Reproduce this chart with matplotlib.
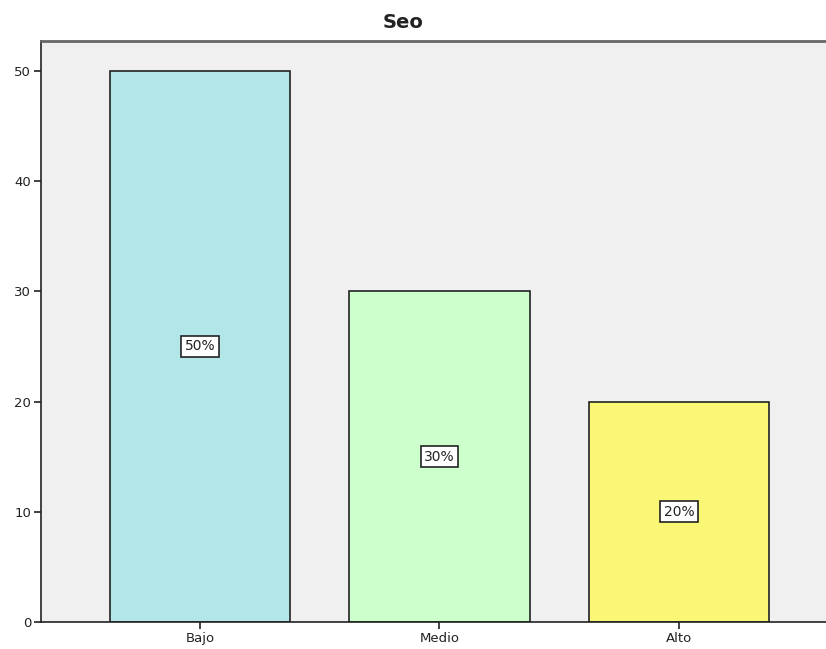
import matplotlib
matplotlib.use("Agg")
import matplotlib.pyplot as plt

categories = ["Bajo", "Medio", "Alto"]
values = [50, 30, 20]
pct_labels = ["50%", "30%", "20%"]
colors = ["#b3e6e8", "#ccffcc", "#faf777"]

fig = plt.figure(figsize=(8.26, 6.49), dpi=100)
ax = fig.add_axes([41/826, 27/649, 797/826, 581/649])
ax.set_facecolor("#f0f0f0")
x = list(range(len(categories)))
ax.bar(x, values, width=0.752, color=colors, edgecolor="#222222", linewidth=1.2, zorder=2)
for xi, v, lab in zip(x, values, pct_labels):
    ax.text(xi, v / 2, lab, ha="center", va="center", fontsize=10, color="#222222",
            bbox=dict(boxstyle="square,pad=0.25", facecolor="white", edgecolor="#222222", linewidth=1.2),
            zorder=3)
ax.set_xlim(-0.664, 2.664)
ax.set_ylim(0, 52.7)
ax.set_yticks([0, 10, 20, 30, 40, 50])
ax.set_xticks(x)
ax.set_xticklabels(categories)
ax.tick_params(axis="both", labelsize=9.5, length=5, width=1.2, color="#222222", labelcolor="#222222", pad=2)
for s in ["left", "bottom"]:
    ax.spines[s].set_color("#222222")
    ax.spines[s].set_linewidth(1.2)
ax.spines["top"].set_color("#666666")
ax.spines["top"].set_linewidth(2)
ax.spines["right"].set_visible(False)
fig.text(403/826, 1 - 22/649, "Seo", ha="center", va="center", fontsize=14, fontweight="bold", color="#222222")
fig.savefig("out.png", dpi=100, facecolor="white")
